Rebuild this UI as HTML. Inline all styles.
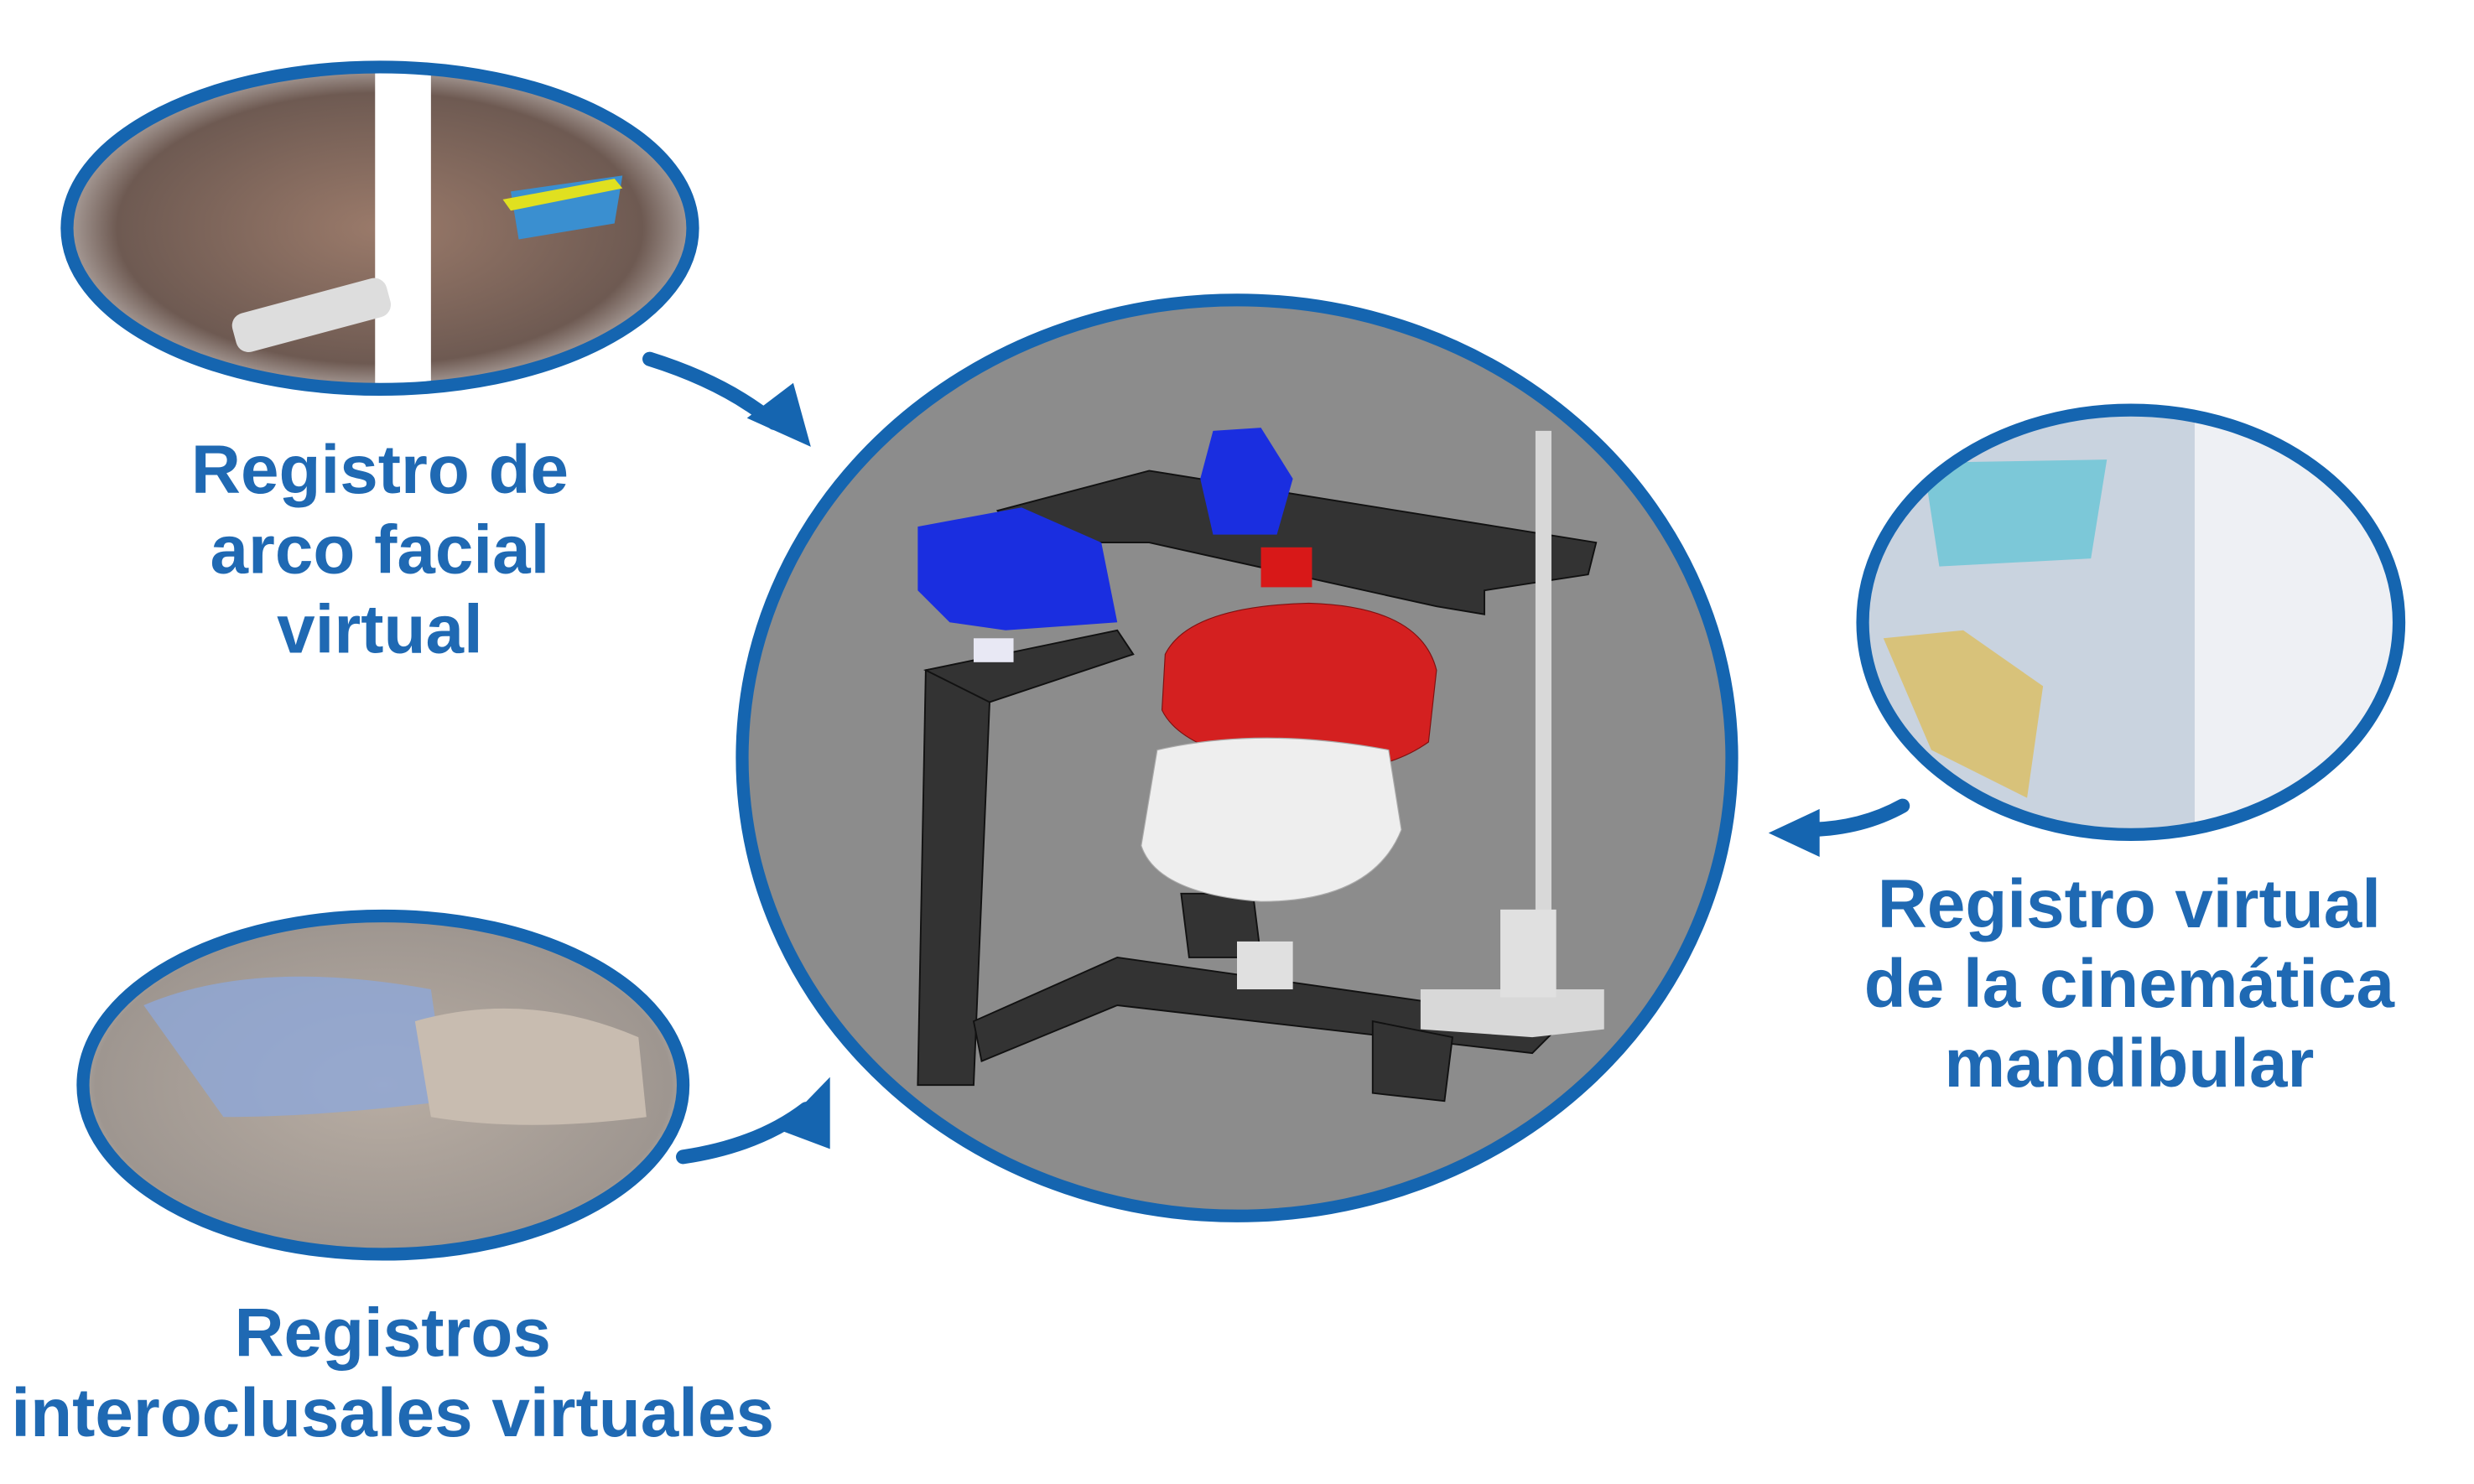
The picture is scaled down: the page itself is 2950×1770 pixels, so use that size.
<!DOCTYPE html>
<html><head><meta charset="utf-8"><style>
html,body{margin:0;padding:0;background:#fff;}
svg{display:block;}
text{font-family:"Liberation Sans",sans-serif;font-weight:bold;fill:#1f69b3;text-anchor:middle;}
</style></head><body>
<svg width="2950" height="1770" viewBox="0 0 1550 930" xmlns="http://www.w3.org/2000/svg">
<defs>
<radialGradient id="face" cx="50%" cy="50%" r="60%"><stop offset="0" stop-color="#9a7a6a"/><stop offset="0.7" stop-color="#6e5a52"/><stop offset="1" stop-color="#f4f4f4"/></radialGradient>
<radialGradient id="teeth" cx="50%" cy="50%" r="60%"><stop offset="0" stop-color="#b8ada3"/><stop offset="0.8" stop-color="#9e9690"/><stop offset="1" stop-color="#e8e8e8"/></radialGradient>
<clipPath id="rc"><ellipse cx="1335" cy="390" rx="168" ry="133"/></clipPath>
<clipPath id="tc"><ellipse cx="238" cy="143" rx="196" ry="101"/></clipPath>
</defs>
<rect width="1550" height="930" fill="#fff"/>
<!-- top-left ellipse -->
<g clip-path="url(#tc)">
<ellipse cx="238" cy="143" rx="196" ry="101" fill="url(#face)"/>
<rect x="235" y="42" width="35" height="200" fill="#fff"/>
<rect x="145" y="185" width="100" height="25" rx="8" fill="#ddd" transform="rotate(-15 195 197)"/>
<polygon points="320,120 390,110 385,140 325,150" fill="#3a8fd0"/>
<polygon points="315,125 385,112 390,118 320,132" fill="#e0e020"/>
</g>
<ellipse cx="238" cy="143" rx="196" ry="101" fill="none" stroke="#1565b0" stroke-width="8"/>
<!-- bottom-left ellipse -->
<ellipse cx="240" cy="680" rx="188" ry="106" fill="url(#teeth)"/>
<path d="M90 630 Q160 600 270 620 L280 690 Q200 700 140 700 Z" fill="#8fa8d8" opacity="0.8"/>
<path d="M260 640 Q330 620 400 650 L405 700 Q330 710 270 700 Z" fill="#c8bcb0"/>
<ellipse cx="240" cy="680" rx="188" ry="106" fill="none" stroke="#1565b0" stroke-width="8"/>
<!-- right ellipse -->
<g clip-path="url(#rc)">
<ellipse cx="1335" cy="390" rx="168" ry="133" fill="#c9d3df"/>
<rect x="1375" y="258" width="130" height="265" fill="#eef0f4"/>
<path d="M1205 290 L1320 288 L1310 350 L1215 355 Z" fill="#7cc8d8"/>
<path d="M1180 400 L1230 395 L1280 430 L1270 500 L1210 470 Z" fill="#d8c27a"/>
</g>
<ellipse cx="1335" cy="390" rx="168" ry="133" fill="none" stroke="#1565b0" stroke-width="8"/>
<!-- center circle -->
<ellipse cx="775" cy="475" rx="310" ry="287" fill="#8c8c8c" stroke="#1565b0" stroke-width="8"/>
<!-- articulator -->
<g fill="#333" stroke="#111" stroke-width="1">
<polygon points="580,420 610,415 620,440 610,680 575,680"/>
<polygon points="580,420 700,395 710,410 620,440"/>
<polygon points="610,640 700,600 980,640 960,660 700,630 615,665"/>
<polygon points="860,640 910,650 905,690 860,685"/>
<polygon points="625,320 720,295 1000,340 995,360 930,370 930,385 900,380 720,340 640,340"/>
<polygon points="740,560 785,560 790,600 745,600"/>
</g>
<rect x="962" y="270" width="10" height="310" fill="#d8d8d8"/>
<polygon points="890,620 1005,620 1005,645 960,650 890,645" fill="#d8d8d8"/>
<rect x="940" y="570" width="35" height="55" fill="#e0e0e0"/>
<rect x="775" y="590" width="35" height="30" fill="#e0e0e0"/>
<polygon points="575,330 640,318 690,340 700,390 630,395 595,390 575,370" fill="#1a2ee0"/>
<polygon points="760,270 790,268 810,300 800,335 760,335 752,300" fill="#1a2ee0"/>
<rect x="790" y="343" width="32" height="25" fill="#d81818"/>
<rect x="610" y="400" width="25" height="15" fill="#e8e8f4"/>
<path d="M730 410 Q745 380 820 378 Q890 380 900 420 L895 465 Q860 490 800 480 Q740 470 728 445 Z" fill="#d42020" stroke="#801010" stroke-width="0.6"/>
<path d="M725 470 Q790 455 870 470 L878 520 Q860 565 790 565 Q725 560 715 530 Z" fill="#eeeeee" stroke="#aaa" stroke-width="0.6"/>
<!-- arrows -->
<g fill="none" stroke="#1565b0" stroke-width="9" stroke-linecap="round">
<path d="M407 225 Q455 240 485 265"/>
<path d="M428 725 Q475 718 505 695"/>
<path d="M1192 505 Q1165 520 1130 520"/>
</g>
<g fill="#1565b0">
<polygon points="468,262 508,280 497,240"/>
<polygon points="488,708 520,675 520,720"/>
<polygon points="1140,507 1108,522 1140,537"/>
</g>
<!-- labels -->
<g font-size="43">
<text x="238" y="309">Registro de</text>
<text x="238" y="359">arco facial</text>
<text x="238" y="409">virtual</text>
<text x="1334" y="581">Registro virtual</text>
<text x="1334" y="631">de la cinemática</text>
<text x="1334" y="681">mandibular</text>
<text x="246" y="850">Registros</text>
<text x="246" y="900">interoclusales virtuales</text>
</g>
</svg>
</body></html>
